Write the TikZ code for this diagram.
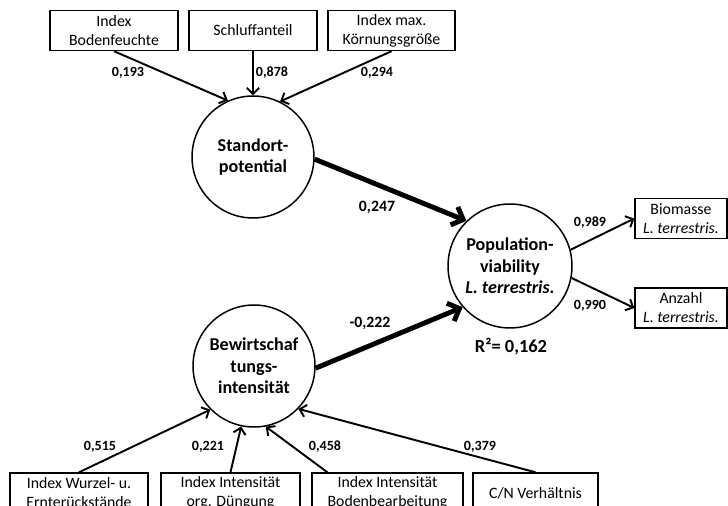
\documentclass[tikz,border=0pt]{standalone}
\usepackage{fontspec}
\setmainfont{Carlito}
\usetikzlibrary{arrows.meta}

\begin{document}
\begin{tikzpicture}[x=0.02cm, y=-0.02cm,
    ind/.style={draw, line width=0.8pt, align=center, inner sep=1pt, minimum height=0.8cm, font=\fontsize{9}{10.8}\selectfont},
    lat/.style={circle, draw, line width=0.85pt, align=center, inner sep=0pt, minimum size=2.44cm, font=\fontsize{10.3}{12.3}\selectfont\bfseries},
    load/.style={font=\fontsize{8}{9.6}\selectfont\bfseries},
    bigload/.style={font=\fontsize{9}{10.8}\selectfont\bfseries},
    arr/.style={-{Straight Barb[length=3.5pt,width=7pt]}, line width=1.1pt},
    bigarr/.style={-{Straight Barb[length=5.5pt,width=11pt]}, line width=2.8pt}]
    \useasboundingbox (0,0) rectangle (728,506);

    % latent variables
    \node[lat] (stand) at (253,157) {Standort-\\potential};
    \node[lat, minimum size=2.48cm] (pop) at (510,266) {Population-\\viability\\\textit{L. terrestris.}};
    \node[lat] (bew) at (254,366) {Bewirtschaf\\tungs-\\intensität};
    \node[font=\fontsize{10.5}{12}\selectfont\bfseries] (rsq) at (511,347) {R²= 0,162};

    % indicators Standortpotential
    \node[ind, minimum width=2.56cm] (feucht) at (114,30.5) {Index\\Bodenfeuchte};
    \node[ind, minimum width=2.56cm] (schluff) at (253,30.5) {Schluffanteil};
    \node[ind, minimum width=2.54cm] (korn) at (391.5,30.5) {Index max.\\Körnungsgröße};

    % indicators Population
    \node[ind, minimum width=1.84cm] (bio) at (681,218.5) {Biomasse\\\textit{L. terrestris.}};
    \node[ind, minimum width=1.84cm] (anz) at (681,308) {Anzahl\\\textit{L. terrestris.}};

    % indicators Bewirtschaftung
    \node[ind, minimum width=2.76cm] (wurzel) at (79,493) {Index Wurzel- u.\\Ernterückstände};
    \node[ind, minimum width=2.78cm] (dueng) at (230.5,493) {Index Intensität\\org. Düngung};
    \node[ind, minimum width=3.02cm] (bearb) at (387.5,493) {Index Intensität\\Bodenbearbeitung};
    \node[ind, minimum width=2.5cm] (cn) at (535.5,493) {C/N Verhältnis};

    % paths
    \draw[arr] (feucht.south) -- (stand.114);
    \draw[arr] (schluff.south) -- (stand.north);
    \draw[arr] (korn.south) -- (stand.64);
    \draw[bigarr] (stand.-2) -- (pop.134);
    \draw[bigarr] (bew.-2) -- (pop.221);
    \draw[arr] (pop.15) -- (bio.west);
    \draw[arr] (pop.-11) -- (anz.west);
    \draw[arr] (wurzel.north) -- (bew.225);
    \draw[arr] (dueng.north) -- (bew.258);
    \draw[arr] (bearb.161) -- (bew.281);
    \draw[arr] (cn.north) -- (bew.-44);

    % loadings
    \node[load] (lfeucht) at (128,73) {0,193};
    \node[load] (lschluff) at (272,73) {0,878};
    \node[load] (lkorn) at (377,73) {0,294};
    \node[bigload] (lstand) at (377,207) {0,247};
    \node[bigload] (lbew) at (370,323) {-0,222};
    \node[load] (lbio) at (590,223) {0,989};
    \node[load] (lanz) at (590,306) {0,990};
    \node[load] (lwurzel) at (100,447) {0,515};
    \node[load] (ldueng) at (208,447) {0,221};
    \node[load] (lbearb) at (325,447) {0,458};
    \node[load] (lcn) at (480,447) {0,379};
\end{tikzpicture}
\end{document}
